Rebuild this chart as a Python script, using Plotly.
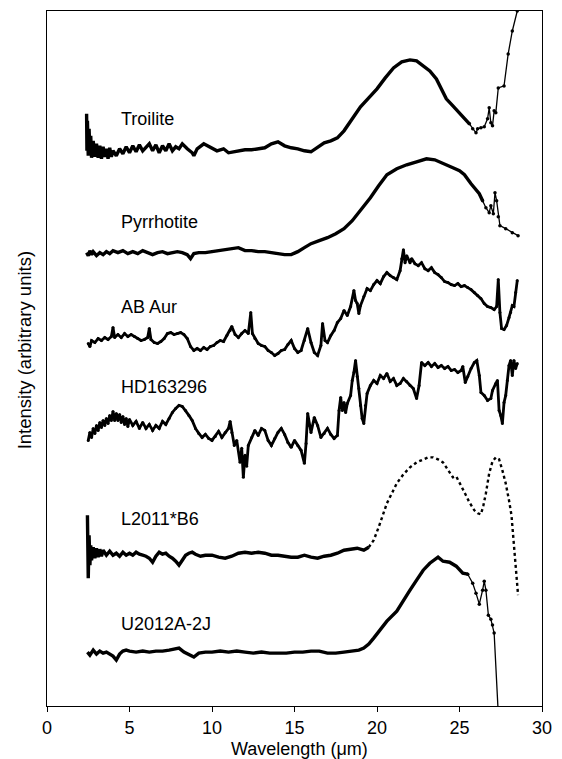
import plotly.graph_objects as go

# ---------------- data (wavelength in micron, intensity in arbitrary units) ----------------
wl_troilite = [2.40, 2.42, 2.45, 2.50, 2.55, 2.60, 2.65, 2.70, 2.80, 2.90,
               3.00, 3.10, 3.20, 3.30, 3.40, 3.50, 3.60, 3.70, 3.80, 3.90,
               4.00, 4.20, 4.40, 4.60, 4.80, 5.00, 5.20, 5.40, 5.60, 5.80,
               6.00, 6.20, 6.40, 6.60, 6.80, 7.00, 7.20, 7.40, 7.60, 7.80,
               8.00, 8.20, 8.50, 8.80, 8.90, 9.10, 9.50, 9.90, 10.3, 10.7,
               11.0, 11.3, 11.6, 12.0, 12.4, 12.8, 13.2, 13.6, 14.0, 14.4,
               14.8, 15.2, 15.6, 16.0, 16.4, 16.8, 17.2, 17.6, 18.0, 18.3,
               18.6, 19.0, 19.5, 20.0, 20.5, 21.0, 21.5, 22.0, 22.4, 22.8,
               23.2, 23.6, 23.9, 24.2, 24.6, 25.0, 25.3, 25.6, 25.8, 26.0,
               26.1, 26.3, 26.5, 26.7, 26.8, 26.9, 27.0, 27.1, 27.2, 27.35,
               27.7, 27.95, 28.2, 28.5, 28.7]
int_troilite = [595, 558, 588, 553, 580, 556, 573, 551, 568, 552,
                565, 551, 563, 550, 562, 552, 560, 550, 561, 552,
                558, 553, 560, 555, 562, 556, 563, 557, 564, 558,
                561, 565, 558, 564, 556, 563, 558, 565, 558, 562,
                560, 565, 560, 556, 553, 560, 565, 561, 558, 560,
                556, 557, 558, 559, 559, 560, 561, 565, 567, 563,
                561, 560, 558, 557, 561, 566, 568, 571, 578, 585,
                593, 602, 611, 620, 631, 641, 647, 649, 648, 643,
                638, 630, 620, 610, 603, 596, 590, 585, 580, 576,
                580, 581, 582, 590, 601, 586, 583, 598, 596, 621,
                623, 655, 678, 698, 713]

wl_pyrrhotite = [2.4, 2.5, 2.6, 2.7, 2.8, 3.0, 3.2, 3.4, 3.6, 3.8,
                 4.0, 4.3, 4.6, 4.9, 5.2, 5.5, 5.8, 6.1, 6.4, 6.7,
                 7.0, 7.3, 7.6, 7.9, 8.2, 8.5, 8.7, 8.9, 9.2, 9.6,
                 10.0, 10.4, 10.8, 11.2, 11.6, 12.0, 12.4, 12.8, 13.2, 13.6,
                 14.0, 14.4, 14.8, 15.2, 15.6, 16.0, 16.5, 17.0, 17.5, 18.0,
                 18.5, 19.0, 19.6, 20.1, 20.6, 21.2, 21.8, 22.4, 23.0, 23.5,
                 24.0, 24.6, 25.0, 25.3, 25.7, 26.0, 26.2, 26.4, 26.6, 26.8,
                 26.9, 27.05, 27.15, 27.25, 27.35, 27.45, 27.8, 28.2, 28.55]
int_pyrrhotite = [456, 453, 458, 454, 457, 453, 456, 454, 457, 455,
                  458, 456, 458, 455, 457, 455, 458, 456, 454, 456,
                  457, 455, 456, 457, 456, 454, 450, 455, 456, 456,
                  457, 458, 459, 460, 461, 458, 458, 457, 457, 456,
                  455, 454, 454, 457, 461, 465, 468, 471, 475, 480,
                  488, 498, 511, 523, 534, 540, 544, 547, 550, 549,
                  545, 541, 538, 534, 525, 519, 515, 508, 501, 496,
                  503, 495, 516, 508, 492, 483, 480, 476, 473]

wl_abaur = [2.5, 2.6, 2.7, 2.9, 3.1, 3.3, 3.5, 3.7, 3.9, 4.0,
            4.1, 4.3, 4.5, 4.7, 4.9, 5.1, 5.3, 5.5, 5.7, 5.9,
            6.1, 6.2, 6.3, 6.5, 6.7, 6.9, 7.1, 7.3, 7.5, 7.7,
            7.9, 8.1, 8.3, 8.5, 8.7, 8.9, 9.1, 9.3, 9.5, 9.7,
            9.9, 10.1, 10.3, 10.5, 10.7, 10.9, 11.1, 11.2, 11.4, 11.6,
            11.8, 12.0, 12.2, 12.35, 12.45, 12.6, 12.8, 13.0, 13.2, 13.4,
            13.6, 13.8, 14.0, 14.2, 14.4, 14.6, 14.8, 15.0, 15.2, 15.4,
            15.6, 15.8, 16.0, 16.2, 16.4, 16.6, 16.7, 16.85, 17.0, 17.2,
            17.4, 17.6, 17.8, 18.0, 18.2, 18.4, 18.6, 18.7, 18.8, 18.9,
            19.0, 19.2, 19.4, 19.6, 19.8, 20.0, 20.2, 20.4, 20.6, 20.8,
            21.0, 21.2, 21.4, 21.5, 21.6, 21.7, 21.8, 22.0, 22.1, 22.3,
            22.5, 22.7, 22.9, 23.1, 23.3, 23.5, 23.7, 23.9, 24.1, 24.3,
            24.5, 24.7, 24.9, 25.1, 25.3, 25.5, 25.7, 25.9, 26.1, 26.3,
            26.5, 26.7, 26.9, 27.1, 27.25, 27.35, 27.45, 27.55, 27.7, 27.85,
            28.0, 28.1, 28.2, 28.3, 28.4, 28.5]
int_abaur = [365, 362, 368, 366, 370, 368, 371, 369, 372, 381,
             371, 374, 371, 375, 372, 374, 372, 370, 368, 369,
             371, 380, 369, 366, 365, 367, 370, 375, 376, 374,
             375, 376, 374, 370, 362, 358, 360, 358, 361, 359,
             362, 363, 366, 368, 367, 373, 378, 382, 374, 371,
             375, 378, 375, 396, 375, 370, 365, 363, 362, 358,
             356, 353, 355, 358, 359, 364, 368, 360, 356, 358,
             368, 380, 366, 356, 353, 363, 385, 368, 366, 373,
             378, 386, 390, 398, 393, 402, 418, 408, 405, 395,
             403, 412, 420, 418, 424, 428, 425, 432, 436, 433,
             431, 429, 438, 450, 459, 446, 453, 446, 450, 445,
             443, 446, 440, 438, 441, 436, 434, 431, 427, 426,
             424, 423, 425, 422, 423, 421, 419, 416, 413, 410,
             405, 402, 401, 399, 402, 429, 396, 380, 379, 383,
             391, 396, 403, 402, 416, 428]

wl_hd163296 = [2.5, 2.6, 2.7, 2.8, 2.9, 3.0, 3.1, 3.2, 3.3, 3.4,
               3.5, 3.6, 3.7, 3.8, 3.9, 4.0, 4.1, 4.2, 4.3, 4.4,
               4.5, 4.6, 4.7, 4.8, 4.9, 5.0, 5.2, 5.4, 5.6, 5.8,
               6.0, 6.2, 6.4, 6.6, 6.8, 7.0, 7.2, 7.4, 7.6, 7.8,
               8.0, 8.2, 8.4, 8.6, 8.8, 9.0, 9.2, 9.4, 9.6, 9.8,
               10.0, 10.2, 10.4, 10.6, 10.8, 11.0, 11.1, 11.2, 11.35, 11.5,
               11.7, 11.8, 11.9, 12.0, 12.1, 12.2, 12.4, 12.6, 12.8, 13.0,
               13.2, 13.4, 13.6, 13.8, 14.0, 14.2, 14.4, 14.6, 14.8, 15.0,
               15.2, 15.4, 15.6, 15.7, 15.8, 15.9, 16.0, 16.2, 16.4, 16.6,
               16.8, 17.0, 17.2, 17.4, 17.6, 17.7, 17.8, 17.9, 18.0, 18.1,
               18.2, 18.4, 18.5, 18.6, 18.7, 18.8, 18.9, 19.0, 19.1, 19.2,
               19.3, 19.4, 19.6, 19.8, 20.0, 20.2, 20.4, 20.6, 20.8, 21.0,
               21.2, 21.4, 21.6, 21.8, 22.0, 22.2, 22.4, 22.55, 22.7, 22.9,
               23.1, 23.3, 23.5, 23.7, 23.9, 24.1, 24.3, 24.5, 24.7, 24.9,
               25.1, 25.2, 25.35, 25.5, 25.7, 25.9, 26.05, 26.2, 26.3, 26.5,
               26.7, 26.9, 27.0, 27.2, 27.3, 27.4, 27.5, 27.6, 27.7, 27.8,
               27.9, 28.0, 28.1, 28.2, 28.3, 28.4, 28.5]
int_hd163296 = [268, 276, 271, 280, 275, 283, 278, 286, 281, 288,
                283, 290, 285, 293, 288, 297, 288, 295, 288, 294,
                286, 292, 284, 290, 282, 289, 283, 287, 280, 286,
                280, 284, 278, 283, 280, 287, 284, 290, 296, 300,
                303, 302, 298, 293, 288, 280, 275, 271, 274, 270,
                268, 272, 277, 271, 276, 280, 287, 276, 263, 268,
                246, 260, 231, 253, 242, 263, 271, 278, 273, 280,
                278, 268, 263, 270, 276, 280, 274, 266, 261, 268,
                263, 258, 245, 265, 295, 283, 276, 291, 283, 271,
                275, 280, 274, 270, 273, 298, 311, 298, 306, 296,
                305, 313, 328, 336, 348, 332, 320, 303, 290, 285,
                303, 315, 323, 328, 325, 333, 330, 335, 327, 330,
                323, 325, 330, 327, 323, 320, 310, 323, 346, 343,
                346, 342, 345, 341, 343, 340, 342, 338, 339, 336,
                338, 342, 326, 332, 340, 346, 348, 333, 316, 313,
                308, 310, 318, 325, 328, 298, 293, 285, 306, 313,
                328, 343, 348, 333, 348, 340, 345]

wl_l2011 = [2.45, 2.5, 2.55, 2.6, 2.65, 2.7, 2.8, 2.9, 3.0, 3.1,
            3.2, 3.3, 3.4, 3.6, 3.8, 4.0, 4.2, 4.4, 4.6, 4.8,
            5.0, 5.2, 5.4, 5.6, 5.8, 6.0, 6.2, 6.4, 6.6, 6.8,
            7.0, 7.2, 7.4, 7.6, 7.8, 8.0, 8.2, 8.4, 8.6, 8.8,
            9.0, 9.3, 9.6, 10.0, 10.4, 10.8, 11.2, 11.6, 12.0, 12.4,
            12.8, 13.2, 13.6, 14.0, 14.4, 14.8, 15.2, 15.6, 16.0, 16.4,
            16.8, 17.2, 17.6, 18.0, 18.4, 18.8, 19.2, 19.5, 19.8, 20.1,
            20.4, 20.6, 20.9, 21.2, 21.6, 22.0, 22.4, 22.8, 23.1, 23.4,
            23.7, 24.0, 24.3, 24.6, 24.8, 25.0, 25.3, 25.6, 25.9, 26.1,
            26.3, 26.45, 26.6, 26.8, 27.0, 27.2, 27.4, 27.6, 27.8, 28.0,
            28.15, 28.3, 28.45, 28.55]
int_l2011 = [193, 130, 173, 143, 163, 148, 161, 150, 160, 151,
             159, 152, 158, 153, 157, 153, 155, 152, 156, 153,
             155, 153, 156, 154, 153, 152, 150, 146, 152, 156,
             154, 155, 152, 150, 147, 143, 148, 153, 155, 156,
             154, 152, 153, 153, 151, 150, 152, 155, 156, 155,
             156, 155, 153, 153, 152, 151, 151, 153, 151, 150,
             152, 153, 155, 158, 159, 160, 158, 161, 168, 181,
             196, 205, 215, 225, 234, 241, 246, 249, 251, 251,
             249, 246, 239, 231, 232, 226, 216, 206, 198, 195,
             194, 203, 215, 235, 247, 251, 249, 238, 225, 208,
             193, 163, 133, 113]

wl_u2012 = [2.45, 2.6, 2.8, 3.0, 3.2, 3.4, 3.6, 3.8, 4.0, 4.2,
            4.4, 4.6, 4.8, 5.0, 5.4, 5.8, 6.2, 6.6, 7.0, 7.4,
            7.8, 8.0, 8.3, 8.6, 8.9, 9.2, 9.6, 10.0, 10.5, 11.0,
            11.5, 12.0, 12.5, 13.0, 13.5, 14.0, 14.5, 15.0, 15.5, 16.0,
            16.5, 17.0, 17.5, 18.0, 18.5, 18.9, 19.2, 19.5, 19.8, 20.2,
            20.6, 21.2, 21.6, 22.0, 22.4, 22.8, 23.2, 23.7, 24.0, 24.4,
            24.8, 25.2, 25.5, 25.8, 26.0, 26.2, 26.4, 26.5, 26.6, 26.75,
            26.9, 27.0, 27.1, 27.4]
int_u2012 = [56, 53, 58, 54, 57, 55, 56, 54, 52, 48,
             54, 57, 58, 57, 56, 57, 56, 57, 57, 58,
             59, 60, 56, 53, 51, 55, 56, 56, 57, 56,
             57, 56, 55, 56, 55, 55, 55, 56, 56, 57,
             57, 55, 55, 56, 57, 58, 60, 64, 70, 78,
             87, 97, 108, 118, 128, 138, 145, 151, 147, 146,
             142, 135, 134, 125, 115, 104, 118, 127, 118, 93,
             89, 83, 75, -22]

labels = ["Troilite", "Pyrrhotite", "AB Aur", "HD163296", "L2011*B6", "U2012A-2J"]
label_levels = [590, 487, 402, 321, 189, 84]
label_wl = 4.35

x_ticks = [0, 5, 10, 15, 20, 25, 30]

# ---------------- styling ----------------
FONT = "Liberation Sans, Arial, Helvetica, sans-serif"
BLACK = "#000000"

spectra = [
    (wl_troilite, int_troilite, 25.6, "thin"),
    (wl_pyrrhotite, int_pyrrhotite, 26.4, "thin"),
    (wl_abaur, int_abaur, None, None),
    (wl_hd163296, int_hd163296, None, None),
    (wl_l2011, int_l2011, 19.5, "dots"),
    (wl_u2012, int_u2012, 25.5, "thin"),
]

fig = go.Figure()

for wl, val, cut, tail_style in spectra:
    if cut is None:
        head_x, head_y, tail_x, tail_y = wl, val, [], []
    else:
        i = next(k for k, w in enumerate(wl) if w >= cut)
        head_x, head_y = wl[:i + 1], val[:i + 1]
        tail_x, tail_y = wl[i:], val[i:]
    noisy = cut is None
    fig.add_trace(go.Scatter(
        x=head_x, y=head_y,
        mode="lines+markers" if noisy else "lines",
        line=dict(color=BLACK, width=2.8 if noisy else 3.4),
        marker=dict(color=BLACK, size=3),
        showlegend=False, hoverinfo="skip"))
    if tail_x:
        if tail_style == "dots":
            fig.add_trace(go.Scatter(
                x=tail_x, y=tail_y, mode="lines",
                line=dict(color=BLACK, width=2.4, dash="dot"),
                showlegend=False, hoverinfo="skip"))
        else:
            fig.add_trace(go.Scatter(
                x=tail_x, y=tail_y, mode="lines+markers",
                line=dict(color=BLACK, width=1.3),
                marker=dict(color=BLACK, size=3.5),
                showlegend=False, hoverinfo="skip"))

annotations = []
for name, lvl in zip(labels, label_levels):
    annotations.append(dict(
        x=label_wl, y=lvl, xref="x", yref="y", text=name, showarrow=False,
        xanchor="left", yanchor="middle",
        font=dict(family=FONT, size=18, color=BLACK)))

annotations.append(dict(
    x=-0.0448, y=0.5115, xref="paper", yref="paper",
    text="Intensity (arbitrary units)", textangle=-90, showarrow=False,
    xanchor="center", yanchor="middle",
    font=dict(family=FONT, size=18.5, color=BLACK)))
annotations.append(dict(
    x=0.51, y=-0.0625, xref="paper", yref="paper",
    text="Wavelength (\u03bcm)", showarrow=False,
    xanchor="center", yanchor="middle",
    font=dict(family=FONT, size=18, color=BLACK)))

fig.update_layout(
    width=562, height=759,
    margin=dict(l=47, r=17, t=10, b=53, pad=0),
    paper_bgcolor="white", plot_bgcolor="white",
    font=dict(family=FONT, size=18, color=BLACK),
    annotations=annotations,
    xaxis=dict(range=[0, 30], tickvals=x_ticks, ticktext=[str(t) for t in x_ticks],
               ticks="outside", ticklen=5, tickwidth=1, tickcolor=BLACK,
               showline=True, linecolor=BLACK, linewidth=1, mirror=True,
               showgrid=False, zeroline=False,
               tickfont=dict(family=FONT, size=18, color=BLACK)),
    yaxis=dict(range=[2, 698], showticklabels=False, ticks="",
               showline=True, linecolor=BLACK, linewidth=1, mirror=True,
               showgrid=False, zeroline=False),
)

fig.write_html("out.html")
